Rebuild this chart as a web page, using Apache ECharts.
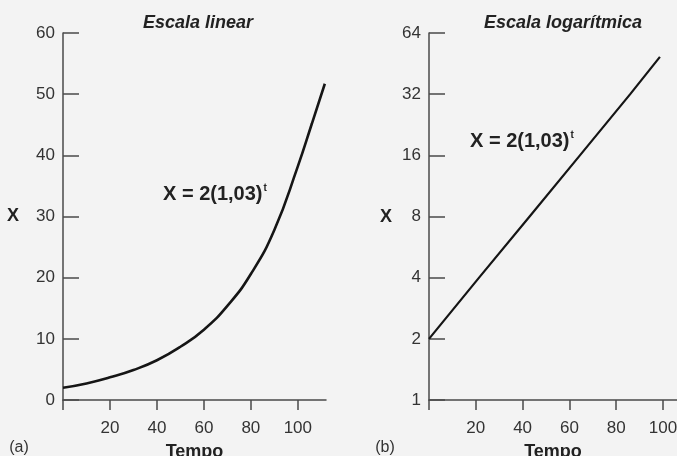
<!DOCTYPE html>
<html>
<head>
<meta charset="utf-8">
<script src="https://cdn.jsdelivr.net/npm/echarts@6/dist/echarts.min.js"></script>
<style>
html,body{margin:0;padding:0;background:#f3f3f3;}
#c{width:677px;height:456px;}
</style>
</head>
<body>
<div id="c"></div>
<script>
// Data
const linearT = [0, 10, 20, 30, 40, 50, 60, 70, 80, 90, 100, 106, 111.5];
const linearX = [2, 2.7, 3.7, 4.9, 6.5, 8.7, 11.5, 15.4, 20.6, 27.8, 38.2, 45.2, 51.7];
const logT = [0, 21.4, 43, 64.5, 86, 98.7];
const logX = [2, 4, 8, 16, 32, 48.8];
const xTicks = [0, 20, 40, 60, 80, 100];
const titles = ['Escala linear', 'Escala logarítmica'];
const panelTags = ['(a)', '(b)'];
const xName = 'Tempo';
const yName = 'X';
const formulaText = 'X = 2(1,03)';
const formulaExp = 't';

const FONT = '"Liberation Sans", Arial, Helvetica, sans-serif';
const axisColor = '#4a4a4a';
const labelColor = '#333';

function xAxisCfg(idx, max) {
  return {
    type: 'value', gridIndex: idx, min: 0, max: max,
    name: xName, nameLocation: 'middle', nameGap: 43,
    nameTextStyle: {fontFamily: FONT, fontWeight: 'bold', fontSize: 18, color: '#222'},
    axisLine: {show: true, lineStyle: {color: axisColor, width: 1.5}},
    axisTick: {show: true, inside: false, length: 10, customValues: xTicks, lineStyle: {color: axisColor, width: 1.5}},
    axisLabel: {customValues: xTicks, margin: 20, fontFamily: FONT, fontSize: 17, color: labelColor,
      formatter: v => (v === 0 ? '' : String(v))},
    splitLine: {show: false}
  };
}
function formula(x, y) {
  return {type: 'text', x: x, y: y, style: {
    text: '{b|' + formulaText + '}{s|' + formulaExp + '}', verticalAlign: 'middle',
    rich: {b: {font: 'bold 20px ' + FONT, fill: '#222'}, s: {font: 'bold 10px ' + FONT, fill: '#222', verticalAlign: 'top', padding: [0, 0, 11, 1]}}
  }};
}

const chart = echarts.init(document.getElementById('c'), null, {renderer: 'canvas'});
chart.setOption({
  backgroundColor: '#f3f3f3',
  animation: false,
  grid: [
    {left: 63, top: 33, width: 263, height: 367, containLabel: false, outerBoundsMode: 'none'},
    {left: 429, top: 33, width: 248, height: 367, containLabel: false, outerBoundsMode: 'none'}
  ],
  xAxis: [xAxisCfg(0, 112), xAxisCfg(1, 106)],
  yAxis: [
    {
      type: 'value', gridIndex: 0, min: 0, max: 60, interval: 10,
      axisLine: {show: true, lineStyle: {color: axisColor, width: 1.5}},
      axisTick: {show: true, inside: true, length: 16, lineStyle: {color: axisColor, width: 1.5}},
      axisLabel: {margin: 8, fontFamily: FONT, fontSize: 17, color: labelColor},
      splitLine: {show: false}
    },
    {
      type: 'log', logBase: 2, gridIndex: 1, min: 1, max: 64,
      axisLine: {show: true, lineStyle: {color: axisColor, width: 1.5}},
      axisTick: {show: true, inside: true, length: 16, lineStyle: {color: axisColor, width: 1.5}},
      axisLabel: {margin: 8, fontFamily: FONT, fontSize: 17, color: labelColor},
      splitLine: {show: false}
    }
  ],
  series: [
    {
      type: 'line', xAxisIndex: 0, yAxisIndex: 0, smooth: 0.5, symbol: 'none',
      lineStyle: {color: '#151515', width: 2.6},
      data: linearT.map((t, i) => [t, linearX[i]])
    },
    {
      type: 'line', xAxisIndex: 1, yAxisIndex: 1, smooth: false, symbol: 'none',
      lineStyle: {color: '#151515', width: 2.2},
      data: logT.map((t, i) => [t, logX[i]])
    }
  ],
  graphic: [
    {type: 'text', x: 198, y: 23, style: {text: titles[0], font: 'italic bold 18px ' + FONT, fill: '#222', align: 'center', verticalAlign: 'middle'}},
    {type: 'text', x: 563, y: 23, style: {text: titles[1], font: 'italic bold 18px ' + FONT, fill: '#222', align: 'center', verticalAlign: 'middle'}},
    {type: 'text', x: 19, y: 448, style: {text: panelTags[0], font: '16px ' + FONT, fill: '#333', align: 'center', verticalAlign: 'middle'}},
    {type: 'text', x: 385, y: 448, style: {text: panelTags[1], font: '16px ' + FONT, fill: '#333', align: 'center', verticalAlign: 'middle'}},
    {type: 'text', x: 13, y: 216, style: {text: yName, font: 'bold 18px ' + FONT, fill: '#222', align: 'center', verticalAlign: 'middle'}},
    {type: 'text', x: 386, y: 217, style: {text: yName, font: 'bold 18px ' + FONT, fill: '#222', align: 'center', verticalAlign: 'middle'}},
    formula(163, 194),
    formula(470, 141)
  ]
});
</script>
</body>
</html>
